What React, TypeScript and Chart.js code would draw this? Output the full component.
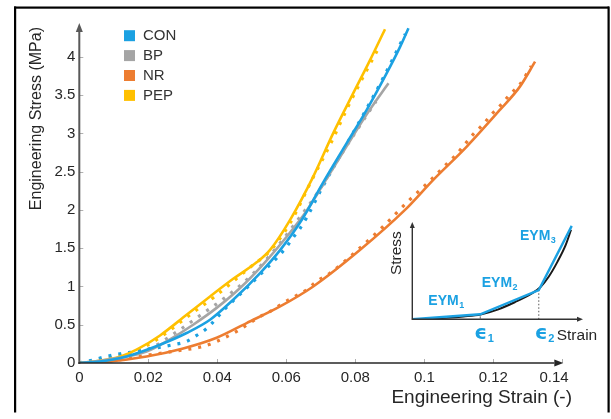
import React, { useEffect, useRef } from 'react';
import { Chart, registerables } from 'chart.js';

Chart.register(...registerables);

const FONT = "'Liberation Sans', Arial, Helvetica, sans-serif";
const TEXT = '#262626';

// ---- series meta ----
const seriesNames = ['CON', 'BP', 'NR', 'PEP'];
const seriesColors = ['#1BA1E2', '#A5A5A5', '#ED7D31', '#FFC000'];

// ---- model fits (solid lines) ----
const conFitStrain = [0, 0.006, 0.0137, 0.0234, 0.0311, 0.0379, 0.0446, 0.0524, 0.0582, 0.0645, 0.0707, 0.0775, 0.0833, 0.0891, 0.093, 0.0954];
const conFitStress = [0, 0.02, 0.086, 0.239, 0.392, 0.565, 0.826, 1.175, 1.475, 1.871, 2.36, 2.872, 3.307, 3.786, 4.133, 4.373];

const bpFitStrain = [0, 0.006, 0.012, 0.0195, 0.0263, 0.033, 0.0398, 0.0466, 0.0533, 0.0601, 0.0659, 0.0698, 0.0765, 0.0833, 0.0896];
const bpFitStress = [0, 0.03, 0.07, 0.15, 0.31, 0.5, 0.72, 0.98, 1.29, 1.65, 1.99, 2.27, 2.76, 3.25, 3.655];

const nrFitStrain = [0, 0.0089, 0.0195, 0.0301, 0.0398, 0.0485, 0.0582, 0.0678, 0.0814, 0.0944, 0.1026, 0.1123, 0.1219, 0.1277, 0.1321];
const nrFitStress = [0, 0.021, 0.085, 0.19, 0.33, 0.522, 0.739, 1.0, 1.479, 2.0, 2.393, 2.828, 3.307, 3.611, 3.937];

const pepFitStrain = [0, 0.006, 0.012, 0.0166, 0.0234, 0.0311, 0.0379, 0.0446, 0.0514, 0.0553, 0.0611, 0.0678, 0.0736, 0.0794, 0.0843, 0.0886];
const pepFitStress = [0, 0.03, 0.085, 0.174, 0.36, 0.63, 0.87, 1.1, 1.315, 1.479, 1.871, 2.436, 3.003, 3.525, 3.96, 4.36];

// ---- experimental (dotted lines) ----
const conExpStrain = [0, 0.004, 0.0079, 0.0118, 0.0147, 0.02, 0.0272, 0.0311, 0.034, 0.0369, 0.0425, 0.0485, 0.0543, 0.0572, 0.0601, 0.062, 0.064, 0.0659, 0.0705, 0.076, 0.082, 0.0878, 0.0925, 0.0945];
const conExpStress = [0, 0.04, 0.086, 0.121, 0.138, 0.18, 0.239, 0.282, 0.36, 0.45, 0.72, 0.98, 1.24, 1.37, 1.52, 1.64, 1.76, 1.9, 2.3, 2.74, 3.22, 3.7, 4.12, 4.3];

const bpExpStrain = [0, 0.005, 0.01, 0.015, 0.021, 0.028, 0.035, 0.0427, 0.05, 0.057, 0.063, 0.069, 0.075, 0.081, 0.086];
const bpExpStress = [0, 0.03, 0.07, 0.11, 0.2, 0.4, 0.62, 0.87, 1.15, 1.5, 1.85, 2.22, 2.66, 3.08, 3.42];

const nrExpStrain = [0, 0.008, 0.0205, 0.0272, 0.0359, 0.0398, 0.0456, 0.0524, 0.0562, 0.0591, 0.0625, 0.0659, 0.0688, 0.0727, 0.08, 0.088, 0.095, 0.1016, 0.1065, 0.1094, 0.1118, 0.1142, 0.1171, 0.1195, 0.1224, 0.1248, 0.1277, 0.131];
const nrExpStress = [0, 0.02, 0.108, 0.152, 0.217, 0.282, 0.413, 0.608, 0.696, 0.783, 0.87, 0.957, 1.065, 1.175, 1.45, 1.78, 2.1, 2.38, 2.6, 2.73, 2.86, 2.99, 3.12, 3.25, 3.38, 3.51, 3.64, 3.88];

const pepExpStrain = [0, 0.006, 0.011, 0.016, 0.0224, 0.0321, 0.039, 0.0446, 0.0475, 0.0504, 0.055, 0.0611, 0.0675, 0.073, 0.078, 0.083, 0.0868];
const pepExpStress = [0, 0.04, 0.09, 0.15, 0.304, 0.63, 0.86, 1.065, 1.175, 1.283, 1.45, 1.83, 2.4, 2.88, 3.36, 3.8, 4.12];

// ---- ticks ----
const xTicks = [0, 0.02, 0.04, 0.06, 0.08, 0.1, 0.12, 0.14];
const yTicks = [0, 0.5, 1, 1.5, 2, 2.5, 3, 3.5, 4];
const xTickLabels = ['0', '0.02', '0.04', '0.06', '0.08', '0.1', '0.12', '0.14    '];
const yTickLabels = ['0', '0.5', '1', '1.5', '2', '2.5', '3', '3.5', '4'];

// ---- inset (schematic, normalized units) ----
const insetStrain = [0, 0.1, 0.2, 0.3, 0.4, 0.5, 0.6, 0.7, 0.75, 0.8, 0.85, 0.9, 0.93];
const insetStress = [0, 0.006, 0.016, 0.03, 0.05, 0.1, 0.175, 0.265, 0.33, 0.44, 0.59, 0.77, 0.92];
const eymStrain = [0, 0.398, 0.741, 0.934];
const eymStress = [0, 0.052, 0.3, 0.96];

const pts = (xs: number[], ys: number[]) => xs.map((x, i) => ({ x, y: ys[i] }));

function arrow(ctx: CanvasRenderingContext2D, x1: number, y1: number, x2: number, y2: number, color: string, width: number, headLen: number, headW: number) {
  ctx.save();
  ctx.strokeStyle = color;
  ctx.fillStyle = color;
  ctx.lineWidth = width;
  const a = Math.atan2(y2 - y1, x2 - x1);
  const bx = x2 - headLen * Math.cos(a);
  const by = y2 - headLen * Math.sin(a);
  ctx.beginPath();
  ctx.moveTo(x1, y1);
  ctx.lineTo(bx, by);
  ctx.stroke();
  ctx.beginPath();
  ctx.moveTo(x2, y2);
  ctx.lineTo(bx + (headW / 2) * Math.sin(a), by - (headW / 2) * Math.cos(a));
  ctx.lineTo(bx - (headW / 2) * Math.sin(a), by + (headW / 2) * Math.cos(a));
  ctx.closePath();
  ctx.fill();
  ctx.restore();
}

function subText(ctx: CanvasRenderingContext2D, main: string, sub: string, x: number, y: number, mainFont: string, subFont: string, color: string, subDy: number) {
  ctx.save();
  ctx.fillStyle = color;
  ctx.textAlign = 'left';
  ctx.textBaseline = 'alphabetic';
  ctx.font = mainFont;
  ctx.fillText(main, x, y);
  const w = ctx.measureText(main).width;
  ctx.font = subFont;
  ctx.fillText(sub, x + w + 0.5, y + subDy);
  ctx.restore();
}

const mainPlugin = {
  id: 'mainDecor',
  beforeDraw(chart: any) {
    const ctx = chart.ctx as CanvasRenderingContext2D;
    ctx.save();
    ctx.fillStyle = '#ffffff';
    ctx.fillRect(0, 0, chart.width, chart.height);
    ctx.fillStyle = '#000000';
    ctx.fillRect(14, 6.5, 2.2, 406);
    ctx.fillRect(14, 6.5, 595, 2.2);
    ctx.fillRect(607.5, 6.5, 2.2, 406);
    ctx.restore();
  },
  afterDatasetsDraw(chart: any) {
    const ctx = chart.ctx as CanvasRenderingContext2D;
    const xs = chart.scales.x;
    const ys = chart.scales.y;
    const x0 = xs.getPixelForValue(0);
    const y0 = ys.getPixelForValue(0);
    ctx.save();
    ctx.strokeStyle = '#b0b0b0';
    ctx.lineWidth = 1;
    xTicks.forEach((v) => {
      if (v === 0) return;
      const px = Math.round(xs.getPixelForValue(v)) + 0.5;
      ctx.beginPath();
      ctx.moveTo(px, y0);
      ctx.lineTo(px, y0 - 4);
      ctx.stroke();
    });
    yTicks.forEach((v) => {
      if (v === 0) return;
      const py = Math.round(ys.getPixelForValue(v)) + 0.5;
      ctx.beginPath();
      ctx.moveTo(x0, py);
      ctx.lineTo(x0 + 4, py);
      ctx.stroke();
    });
    ctx.restore();
    arrow(ctx, x0, y0 + 1, x0, chart.chartArea.top - 4, '#595959', 2, 9, 7);
    arrow(ctx, x0 - 1, y0, xs.getPixelForValue(0.14) + 1, y0, '#262626', 1.6, 9, 7);
  },
  afterDraw(chart: any) {
    const ctx = chart.ctx as CanvasRenderingContext2D;
    ctx.save();
    ctx.font = `15px ${FONT}`;
    ctx.textBaseline = 'middle';
    ctx.textAlign = 'left';
    seriesNames.forEach((name, i) => {
      const cy = 35.7 + i * 19.9;
      ctx.fillStyle = seriesColors[i];
      ctx.fillRect(124, cy - 5.5, 11, 11);
      ctx.fillStyle = '#333333';
      ctx.fillText(name, 143, cy + 0.5);
    });
    ctx.restore();
  },
};

const insetPlugin = {
  id: 'insetDecor',
  afterDatasetsDraw(chart: any) {
    const ctx = chart.ctx as CanvasRenderingContext2D;
    const xs = chart.scales.x;
    const ys = chart.scales.y;
    const X = (v: number) => xs.getPixelForValue(v);
    const Y = (v: number) => ys.getPixelForValue(v);
    const blue = seriesColors[0];
    arrow(ctx, X(0), Y(0) + 0.5, X(0), Y(1), '#333333', 1.4, 6, 5);
    arrow(ctx, X(0) - 0.5, Y(0), X(1), Y(0), '#333333', 1.4, 6, 5);
    ctx.save();
    ctx.strokeStyle = '#666';
    ctx.lineWidth = 1;
    ctx.beginPath();
    ctx.moveTo(X(eymStrain[1]), Y(0));
    ctx.lineTo(X(eymStrain[1]), Y(0) - 3);
    ctx.stroke();
    ctx.restore();
    const bold = (s: number) => `bold ${s}px ${FONT}`;
    subText(ctx, 'EYM', '1', X(0.094), Y(0.147), bold(14), bold(9), blue, 3);
    subText(ctx, 'EYM', '2', X(0.407), Y(0.335), bold(14), bold(9), blue, 3);
    subText(ctx, 'EYM', '3', X(0.631), Y(0.815), bold(14), bold(9), blue, 3);
    const epsFont = `bold 20px 'DejaVu Sans', ${FONT}`;
    subText(ctx, 'ϵ', '1', X(eymStrain[1]) - 6, Y(0) + 20, epsFont, bold(11), blue, 3);
    subText(ctx, 'ϵ', '2', X(eymStrain[2]) - 4, Y(0) + 20, epsFont, bold(11), blue, 3);
    ctx.save();
    ctx.fillStyle = TEXT;
    ctx.font = `15.5px ${FONT}`;
    ctx.textBaseline = 'middle';
    ctx.textAlign = 'left';
    ctx.fillText('Strain', X(0.846), Y(0) + 16);
    ctx.translate(X(0) - 15.5, Y(0.68));
    ctx.rotate(-Math.PI / 2);
    ctx.textAlign = 'center';
    ctx.fillText('Stress', 0, 0);
    ctx.restore();
  },
};

export default function App() {
  const mainRef = useRef<HTMLCanvasElement | null>(null);
  const insetRef = useRef<HTMLCanvasElement | null>(null);

  useEffect(() => {
    document.body.style.margin = '0';
    const fit = (xs: number[], ys: number[], i: number) => ({
      label: seriesNames[i],
      data: pts(xs, ys),
      borderColor: seriesColors[i],
      backgroundColor: seriesColors[i],
      borderWidth: 2.6,
      pointRadius: 0,
      fill: false,
      cubicInterpolationMode: 'monotone' as const,
      order: 1,
    });
    const exp = (xs: number[], ys: number[], i: number) => ({
      label: seriesNames[i] + ' exp',
      data: pts(xs, ys),
      borderColor: seriesColors[i],
      backgroundColor: seriesColors[i],
      borderWidth: 3.2,
      borderDash: [3, 7],
      pointRadius: 0,
      fill: false,
      cubicInterpolationMode: 'monotone' as const,
      order: 2,
    });

    const main = new Chart(mainRef.current as HTMLCanvasElement, {
      type: 'line',
      data: {
        datasets: [
          fit(conFitStrain, conFitStress, 0),
          fit(bpFitStrain, bpFitStress, 1),
          fit(nrFitStrain, nrFitStress, 2),
          fit(pepFitStrain, pepFitStress, 3),
          exp(conExpStrain, conExpStress, 0),
          exp(bpExpStrain, bpExpStress, 1),
          exp(nrExpStrain, nrExpStress, 2),
          exp(pepExpStrain, pepExpStress, 3),
        ],
      },
      options: {
        responsive: false,
        animation: false,
        devicePixelRatio: 1,
        layout: { padding: { left: 0, right: 39, top: 27, bottom: 9 } },
        plugins: { legend: { display: false }, tooltip: { enabled: false } },
        scales: {
          x: {
            type: 'linear',
            min: 0,
            max: 0.1428,
            border: { display: false },
            grid: { display: false, drawTicks: false },
            afterBuildTicks: (s: any) => {
              s.ticks = xTicks.map((v) => ({ value: v }));
            },
            afterFit: (s: any) => {
              s.height = 47;
            },
            ticks: {
              autoSkip: false,
              maxRotation: 0,
              padding: 6,
              color: TEXT,
              font: { family: FONT, size: 15 },
              callback: (v: any) => xTickLabels[xTicks.indexOf(Number(v))] ?? '',
            },
            title: {
              display: true,
              text: 'Engineering Strain (-)',
              align: 'end',
              color: TEXT,
              font: { family: FONT, size: 19 },
              padding: { top: 0, bottom: 1 },
            },
          },
          y: {
            type: 'linear',
            min: 0,
            max: 4.39,
            border: { display: false },
            grid: { display: false, drawTicks: false },
            afterBuildTicks: (s: any) => {
              s.ticks = yTicks.map((v) => ({ value: v }));
            },
            afterFit: (s: any) => {
              s.width = 79.3;
            },
            ticks: {
              autoSkip: false,
              padding: 4,
              color: TEXT,
              font: { family: FONT, size: 15 },
              callback: (v: any) => yTickLabels[yTicks.indexOf(Number(v))] ?? '',
            },
            title: {
              display: true,
              text: 'Engineering Stress (MPa)',
              align: 'end',
              color: TEXT,
              font: { family: FONT, size: 16 },
              padding: { top: 27, bottom: 0 },
            },
          },
        },
      },
      plugins: [mainPlugin],
    });

    const inset = new Chart(insetRef.current as HTMLCanvasElement, {
      type: 'line',
      data: {
        datasets: [
          {
            label: 'EYM',
            data: pts(eymStrain, eymStress),
            borderColor: seriesColors[0],
            borderWidth: 2.4,
            pointRadius: 0,
            tension: 0,
            fill: false,
          },
          {
            label: 'curve',
            data: pts(insetStrain, insetStress),
            borderColor: '#1a1a1a',
            borderWidth: 2,
            pointRadius: 0,
            cubicInterpolationMode: 'monotone',
            fill: false,
          },
          {
            label: 'eps2',
            data: [
              { x: eymStrain[2], y: 0 },
              { x: eymStrain[2], y: eymStress[2] },
            ],
            borderColor: '#555555',
            borderWidth: 1,
            borderDash: [1.5, 2],
            pointRadius: 0,
            fill: false,
          },
        ],
      },
      options: {
        responsive: false,
        animation: false,
        devicePixelRatio: 1,
        layout: { padding: { left: 32.3, right: 28, top: 12, bottom: 40.7 } },
        plugins: { legend: { display: false }, tooltip: { enabled: false } },
        scales: {
          x: { type: 'linear', min: 0, max: 1, display: false },
          y: { type: 'linear', min: 0, max: 1, display: false },
        },
      },
      plugins: [insetPlugin],
    });

    return () => {
      main.destroy();
      inset.destroy();
    };
  }, []);

  return (
    <div style={{ position: 'absolute', left: 0, top: 0, width: 611, height: 419, background: '#fff' }}>
      <canvas ref={mainRef} width={611} height={419} style={{ position: 'absolute', left: 0, top: 0, display: 'block' }} />
      <canvas ref={insetRef} width={231} height={150} style={{ position: 'absolute', left: 380, top: 210, display: 'block' }} />
    </div>
  );
}
